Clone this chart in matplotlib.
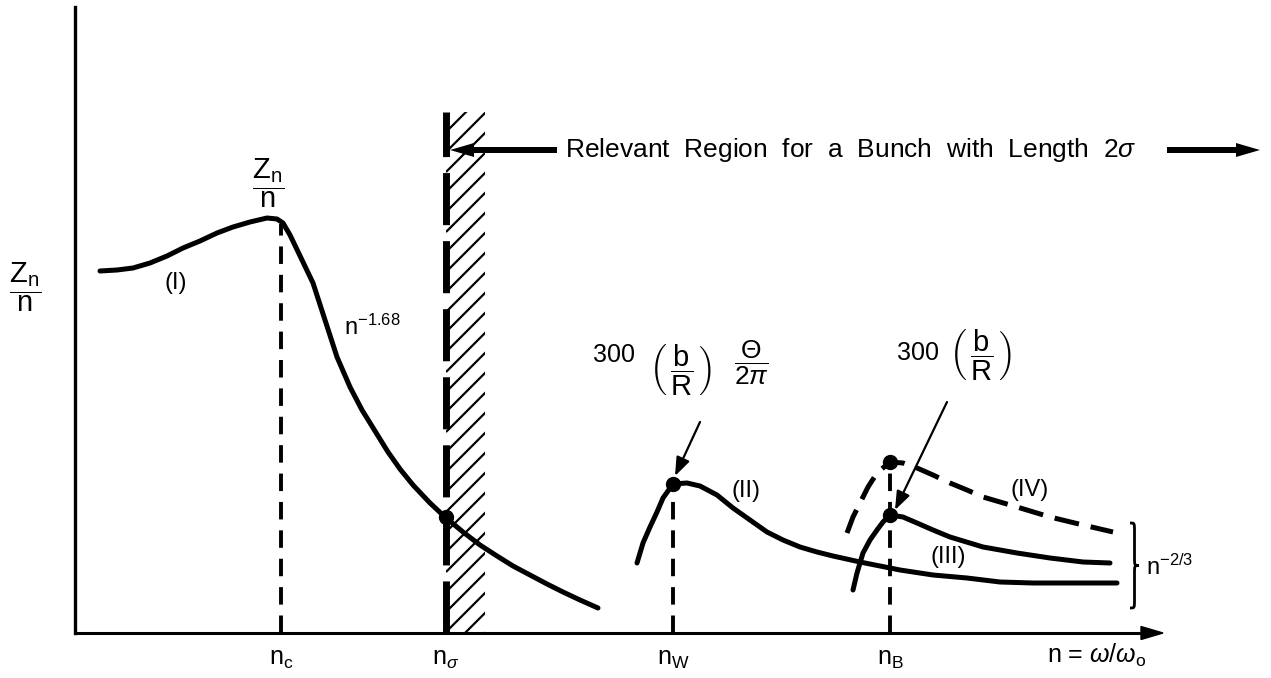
import numpy as np
import matplotlib.pyplot as plt
from matplotlib.patches import Rectangle, PathPatch
from matplotlib.path import Path
from matplotlib.collections import LineCollection

plt.rcParams['font.family'] = ['Liberation Sans', 'DejaVu Sans']
plt.rcParams['mathtext.fontset'] = 'custom'
plt.rcParams['mathtext.rm'] = 'Liberation Sans'
plt.rcParams['mathtext.it'] = 'Liberation Sans:italic'
plt.rcParams['mathtext.bf'] = 'Liberation Sans:bold'
plt.rcParams['mathtext.sf'] = 'Liberation Sans'

# schematic units: n measured from the Z axis, Z_n/n measured from the n axis
# curve (I): broad-band part, rolling off as n^-1.68
n_I = [25, 42, 58, 75, 92, 108, 125, 142, 158, 175, 192, 202, 208, 215, 227,
       238, 250, 262, 275, 287, 300, 313, 325, 338, 355, 370, 388, 405, 422,
       438, 455, 472, 488, 505, 523]
z_I = [362, 363, 365, 370, 377, 385, 392, 400, 406, 411, 415, 414, 410, 398, 373,
       350, 313, 276, 246, 223, 202, 181, 164, 148, 130, 116, 101, 88, 77,
       67, 58, 49, 41, 33, 25]
# curve (II): peak at n_W
n_II = [562, 568, 575, 582, 588, 598, 612, 625, 642, 658, 675, 692, 708, 725,
        742, 758, 785, 825, 858, 892, 925, 958, 992, 1042]
z_II = [70, 90, 106, 121, 135, 149, 150, 147, 138, 125, 113, 101, 93, 86,
        81, 77, 71, 63, 58, 55, 51, 50, 50, 50]
# curve (III): peak at n_B
n_III = [778, 782, 788, 795, 802, 808, 815, 828, 842, 858, 875, 908, 942, 975,
         1008, 1035]
z_III = [43, 60, 80, 93, 103, 111, 118, 116, 110, 103, 96, 86, 80, 75, 71, 70]
# curve (IV), dashed
n_IV = [772, 778, 785, 793, 802, 815, 828, 842, 858, 875, 892, 908, 942, 975,
        1008, 1038]
z_IV = [100, 116, 130, 146, 160, 171, 170, 165, 158, 150, 143, 136, 126, 116,
        108, 101]

# characteristic harmonics
n_c, n_sigma, n_W, n_B = 206, 371, 598, 815
tick_pos = [n_c, n_sigma, n_W, n_B]
tick_labels = [r'n$_\mathrm{c}$', r'n$_\sigma$', r'n$_\mathrm{W}$', r'n$_\mathrm{B}$']
drop_tops = [409, 521, 149, 171]
dot_n = [371, 598, 815, 815]
dot_z = [116, 149, 118, 171]

fig = plt.figure(figsize=(12.71, 6.78), dpi=100)
ax = fig.add_axes([75 / 1271, 45 / 678, 1088 / 1271, 626 / 678])
ax.set_xlim(0, 1088)
ax.set_ylim(0, 626)
for s in ['top', 'right']:
    ax.spines[s].set_visible(False)
ax.spines['left'].set_linewidth(2.4)
ax.spines['bottom'].set_linewidth(2.2)
ax.spines['bottom'].set_bounds(0, 1070)
ax.set_yticks([])
ax.set_xticks(tick_pos, tick_labels, fontsize=18)
ax.tick_params(axis='x', length=0, pad=10)
ax.arrow(1050, 0, 38, 0, width=0, head_width=13, head_length=22,
         length_includes_head=True, fc='k', ec='k', clip_on=False)

ax.set_ylabel(r'$\dfrac{\mathrm{Z}_\mathrm{n}}{\mathrm{n}}$', rotation=0,
              fontsize=21, ha='center', va='center')
ax.yaxis.set_label_coords(-50 / 1088, 346 / 626)

# bunch length boundary: hatched strip to the right of n_sigma
hatch_w, hatch_step = 39, 20
strip = Rectangle((n_sigma, 0), hatch_w, drop_tops[1], facecolor='none',
                  edgecolor='none')
ax.add_patch(strip)
starts = np.arange(-hatch_w, drop_tops[1], hatch_step)
segs = [[(n_sigma, y0), (n_sigma + hatch_w + 4, y0 + hatch_w + 4)] for y0 in starts]
hatch = LineCollection(segs, colors='k', linewidths=1.6)
ax.add_collection(hatch)
hatch.set_clip_path(strip)
ax.vlines(n_sigma, 0, drop_tops[1], color='k', lw=5, linestyles=(0, (7.5, 2.3)))
ax.vlines([n_c, n_W, n_B], 0, [drop_tops[0], drop_tops[2], drop_tops[3]],
          color='k', lw=2.8, linestyles=(0, (4.5, 2.8)))

kw = dict(color='k', lw=3.6, solid_capstyle='round', solid_joinstyle='round')
ax.plot(n_I, z_I, **kw)
ax.plot(n_II, z_II, **kw)
ax.plot(n_III, z_III, **kw)
ax.plot(n_IV, z_IV, color='k', lw=3.6, linestyle=(0, (5, 2.4)))
ax.plot(dot_n, dot_z, 'o', color='k', markersize=10)

# labels on the curves
ax.text(193, 450, r'$\dfrac{\mathrm{Z}_\mathrm{n}}{\mathrm{n}}$', fontsize=21,
        ha='center', va='center')
ax.text(269, 298, r'n$^{-1.68}$', fontsize=17, va='baseline')
ax.text(101, 350, '(I)', fontsize=17, ha='center', va='center')
ax.text(671, 142, '(II)', fontsize=17, ha='center', va='center')
ax.text(873, 76, '(III)', fontsize=17, ha='center', va='center')
ax.text(955, 143, '(IV)', fontsize=17, ha='center', va='center')

ax.text(518, 271, '300', fontsize=18, va='baseline')
ax.text(606, 263, r'$\left(\,\dfrac{\mathrm{b}}{\mathrm{R}}\,\right)$', fontsize=21,
        ha='center', va='center')
ax.text(676, 270, r'$\dfrac{\Theta}{2\pi}$', fontsize=19, ha='center', va='center')
ax.annotate('', xy=(600, 157), xytext=(625, 211),
            arrowprops=dict(arrowstyle='-|>,head_length=0.8,head_width=0.3',
                            lw=1.6, color='k', shrinkA=0, shrinkB=0,
                            mutation_scale=14))

ax.text(822, 273, '300', fontsize=18, va='baseline')
ax.text(906, 278, r'$\left(\,\dfrac{\mathrm{b}}{\mathrm{R}}\,\right)$', fontsize=21,
        ha='center', va='center')
ax.annotate('', xy=(820, 123), xytext=(872, 231),
            arrowprops=dict(arrowstyle='-|>,head_length=0.8,head_width=0.3',
                            lw=1.6, color='k', shrinkA=0, shrinkB=0,
                            mutation_scale=14))

# brace grouping the high-frequency tails
bx, btop, bbot, bw, r = 1055, 110, 25, 9, 8
bmid = (btop + bbot) / 2
verts = [(bx, btop), (bx + bw / 2, btop), (bx + bw / 2, btop), (bx + bw / 2, btop - r),
         (bx + bw / 2, bmid + r),
         (bx + bw / 2, bmid), (bx + bw / 2, bmid), (bx + bw, bmid),
         (bx + bw / 2, bmid), (bx + bw / 2, bmid), (bx + bw / 2, bmid - r),
         (bx + bw / 2, bbot + r),
         (bx + bw / 2, bbot), (bx + bw / 2, bbot), (bx, bbot)]
codes = [Path.MOVETO, Path.CURVE4, Path.CURVE4, Path.CURVE4, Path.LINETO,
         Path.CURVE4, Path.CURVE4, Path.CURVE4, Path.CURVE4, Path.CURVE4, Path.CURVE4,
         Path.LINETO, Path.CURVE4, Path.CURVE4, Path.CURVE4]
ax.add_patch(PathPatch(Path(verts, codes), facecolor='none', edgecolor='k',
                       lw=2, clip_on=False))
ax.text(1071, 58, r'n$^{-2/3}$', fontsize=17, va='baseline')

ax.text(972, -30, r'n = $\omega/\omega_\mathrm{o}$', fontsize=18, va='baseline')

# relevant region banner
ax.arrow(482, 483, -107, 0, width=6, head_width=14, head_length=24,
         length_includes_head=True, fc='k', ec='k', lw=0, clip_on=False)
ax.text(490, 483, r'Relevant  Region  for  a  Bunch  with  Length  2$\sigma$',
        fontsize=19, va='center')
ax.arrow(1092, 483, 93, 0, width=6, head_width=14, head_length=24,
         length_includes_head=True, fc='k', ec='k', lw=0, clip_on=False)

plt.savefig('out.png', dpi=100)
